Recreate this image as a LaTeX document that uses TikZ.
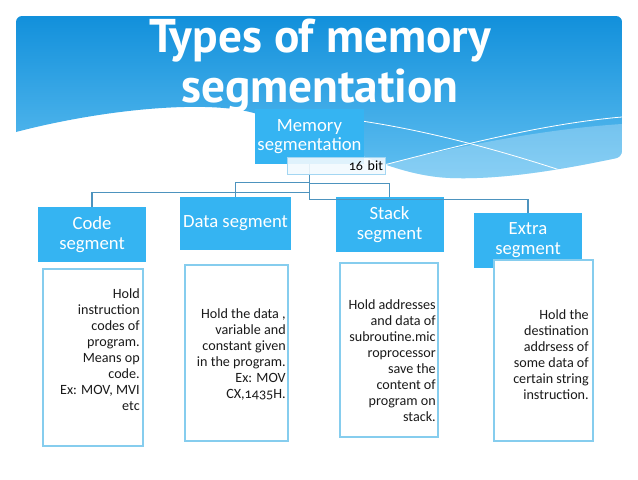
\documentclass[tikz,border=0pt]{standalone}
\usepackage{fontspec}
\setmainfont{Carlito}[Numbers=OldStyle]
\newfontfamily\titlefont{PT Sans}
\usetikzlibrary{positioning}
\definecolor{SkyTop}{HTML}{1290DB}
\definecolor{SkyBottom}{HTML}{62C0F1}
\definecolor{SegBlue}{HTML}{35B4F2}
\definecolor{NoteEdge}{HTML}{86CDEE}
\definecolor{LinkBlue}{HTML}{4D93BE}
\definecolor{BitFill}{HTML}{F2F9FE}
\definecolor{BitEdge}{HTML}{A3D6F2}
\definecolor{NoteText}{HTML}{1A1A1A}
\tikzset{
    segbox/.style={
        fill=SegBlue,
        minimum width=81pt,
        minimum height=41.25pt,
        text=white,
        font=\fontsize{14}{15}\selectfont,
        align=center,
        inner sep=2pt
    },
    notebox/.style={
        draw=NoteEdge,
        line width=0.9pt,
        fill=white,
        inner sep=0pt
    },
    notetext/.style={
        text=NoteText,
        font=\fontsize{10.6}{12}\selectfont,
        align=right,
        inner sep=0pt,
        anchor=east
    },
    bitbox/.style={
        draw=BitEdge,
        line width=0.6pt,
        fill=BitFill,
        fill opacity=0.9,
        text opacity=1,
        minimum width=73.5pt,
        minimum height=12.75pt,
        text width=70.5pt,
        align=right,
        inner sep=1.5pt,
        font=\fontsize{10.5}{11}\selectfont
    },
    link/.style={
        draw=LinkBlue,
        line width=0.8pt
    },
    titletext/.style={
        text=white,
        font=\titlefont\bfseries\fontsize{35.5}{37.5}\selectfont,
        align=center,
        inner sep=0pt
    }
}
\begin{document}
\begin{tikzpicture}[x=0.75pt,y=-0.75pt]
    \useasboundingbox (0,0) rectangle (638,479);

    % title banner
    \begin{scope}
        \clip[rounded corners=4.5pt] (16,132) -- (16,16) -- (622,16) -- (622,157) [sharp corners]
            .. controls (560,170) and (500,180) .. (450,178)
            .. controls (380,175) and (320,130) .. (250,112)
            .. controls (200,100) and (100,110) .. (16,132) -- cycle;
        \shade[top color=SkyTop, bottom color=SkyBottom] (16,16) rectangle (622,180);
        \fill[white, opacity=.25] (330,178) .. controls (430,152) and (530,130) .. (622,124) -- (622,200) -- (330,200) -- cycle;
        \draw[white, line width=.6pt] (380,166) .. controls (450,148) and (540,124) .. (622,117);
        \draw[white, line width=.6pt] (340,118) .. controls (420,128) and (500,150) .. (575,175);
    \end{scope}
    \node[titletext] (title) at (320,66) {Types of memory\\segmentation};

    % segments
    \node[segbox, font=\fontsize{14}{14.5}\selectfont] (memory) at (309.5,136.5) {Memory\\segmentation};
    \node[segbox] (code) at (92,234.5) {Code\\segment};
    \node[segbox, minimum height=39.75pt] (data) at (235.5,223.5) {Data segment};
    \node[segbox] (stack) at (389.5,224.5) {Stack\\segment};
    \node[segbox] (extra) at (528,240.5) {Extra\\segment};

    \draw[link] (memory.south) -- ++(0,28) -| (code.north);
    \draw[link] (memory.south) -- ++(0,18) -| (data.north);
    \draw[link] (memory.south) -- ++(0,19) -| (stack.north);
    \draw[link] (memory.south) -- ++(0,35) -| (extra.north);

    \node[bitbox] (bits) at (336,165.5) {16 bit};

    % descriptions
    \node[notebox, minimum width=75pt, minimum height=132.75pt] (codenote) at (93,357.5) {};
    \node[notetext] (codetext) at (140,350) {Hold\\instruction\\codes of\\program.\\Means op\\code.\\Ex: MOV, MVI\\etc};

    \node[notebox, minimum width=77.25pt, minimum height=132pt] (datanote) at (236.5,353) {};
    \node[notetext] (datatext) at (286,354) {Hold the data ,\\variable and\\constant given\\in the program.\\Ex: MOV\\CX,1435H.};

    \node[notebox, minimum width=73.5pt, minimum height=130.5pt] (stacknote) at (389,350) {};
    \node[notetext] (stacktext) at (436,361) {Hold addresses\\and data of\\subroutine.mic\\roprocessor\\save the\\content of\\program on\\stack.};

    \node[notebox, minimum width=74.25pt, minimum height=135.75pt] (extranote) at (543.5,350.5) {};
    \node[notetext] (extratext) at (589,355) {Hold the\\destination\\addrsess of\\some data of\\certain string\\instruction.};
\end{tikzpicture}
\end{document}
